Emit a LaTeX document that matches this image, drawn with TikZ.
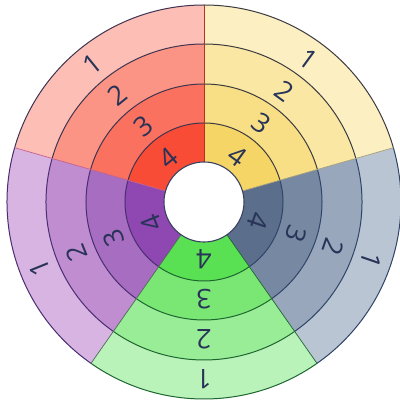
\documentclass[tikz,border=0pt]{standalone}
\usepackage{fontspec}
\setmainfont{Open Sans}
\definecolor{rA}{HTML}{FDBEB6}\definecolor{rB}{HTML}{FB9484}\definecolor{rC}{HTML}{FA7160}\definecolor{rD}{HTML}{F94C36}
\definecolor{yA}{HTML}{FCEFC2}\definecolor{yB}{HTML}{FAE7A4}\definecolor{yC}{HTML}{F8DE85}\definecolor{yD}{HTML}{F5D566}
\definecolor{bA}{HTML}{BAC5D3}\definecolor{bB}{HTML}{98A7BB}\definecolor{bC}{HTML}{7789A2}\definecolor{bD}{HTML}{5B6E8B}
\definecolor{gA}{HTML}{BAF3BA}\definecolor{gB}{HTML}{99ED96}\definecolor{gC}{HTML}{7AE774}\definecolor{gD}{HTML}{59E153}
\definecolor{pA}{HTML}{D7B4E1}\definecolor{pB}{HTML}{BF8DD0}\definecolor{pC}{HTML}{A76DC0}\definecolor{pD}{HTML}{8F47B1}
\definecolor{ink}{HTML}{283358}
\definecolor{rL}{HTML}{3F3550}\definecolor{yL}{HTML}{3C3C40}\definecolor{bL}{HTML}{2F4468}
\definecolor{gL}{HTML}{1E6630}\definecolor{pL}{HTML}{4A2E72}
\tikzset{
  num/.style={text=ink, font=\fontsize{27}{27}\selectfont, inner sep=0pt},
  ringline/.style={line width=1pt},
}
% #1 start, #2 end, #3 r1, #4 r2, #5 colour
\newcommand\cellfill[5]{\fill[#5] (#1:#3pt) arc[start angle=#1, end angle=#2, radius=#3pt] -- (#2:#4pt) arc[start angle=#2, end angle=#1, radius=#4pt] -- cycle;}
% sector: #1 start #2 end #3 prefix #4 line colour #5 label angle
\newcommand\sectorcells[5]{%
  \cellfill{#1}{#2}{158}{197}{#3A}
  \cellfill{#1}{#2}{118}{158}{#3B}
  \cellfill{#1}{#2}{79}{118}{#3C}
  \cellfill{#1}{#2}{40}{79}{#3D}
  \foreach \rr in {79,118,158}{\draw[ringline,#4] (#1:\rr pt) arc[start angle=#1, end angle=#2, radius=\rr pt];}
  \draw[ringline,#4] (#1:197pt) arc[start angle=#1, end angle=#2, radius=197pt];
  \pgfmathsetmacro\rot{#5-90}
  \node[num, rotate=\rot] (#3n1) at (#5:177pt) {1};
  \node[num, rotate=\rot] (#3n2) at (#5:137pt) {2};
  \node[num, rotate=\rot] (#3n3) at (#5:97pt) {3};
  \node[num, rotate=\rot] (#3n4) at (#5:57pt) {4};
}
\begin{document}
\begin{tikzpicture}[x=1pt,y=1pt]
\useasboundingbox (-204,-199) rectangle (195,202);
\fill[white] (-204,-199) rectangle (195,202);
\sectorcells{16}{90}{y}{yL}{54}
\sectorcells{90}{164}{r}{rL}{129}
\sectorcells{164}{235}{p}{pL}{202}
\sectorcells{235}{305}{g}{gL}{270}
\sectorcells{305}{376}{b}{bL}{341}
% radial boundaries
\draw[line width=0.7pt, color=rD!70!black] (90:40pt) -- (90:197pt);
\draw[line width=0.7pt, color=pC!60!rD] (164:40pt) -- (164:197pt);
\draw[line width=0.7pt, color=pD!50!gD!70!black] (235:40pt) -- (235:197pt);
\draw[line width=0.7pt, color=gL] (305:40pt) -- (305:197pt);
\draw[line width=0.7pt, color=yD!50!bD] (16:40pt) -- (16:197pt);
% centre hole
\node[circle, fill=white, draw=ink!80!gray, line width=1.1pt, minimum size=80pt, inner sep=0pt] (hole) at (0,0) {};
\end{tikzpicture}
\end{document}
